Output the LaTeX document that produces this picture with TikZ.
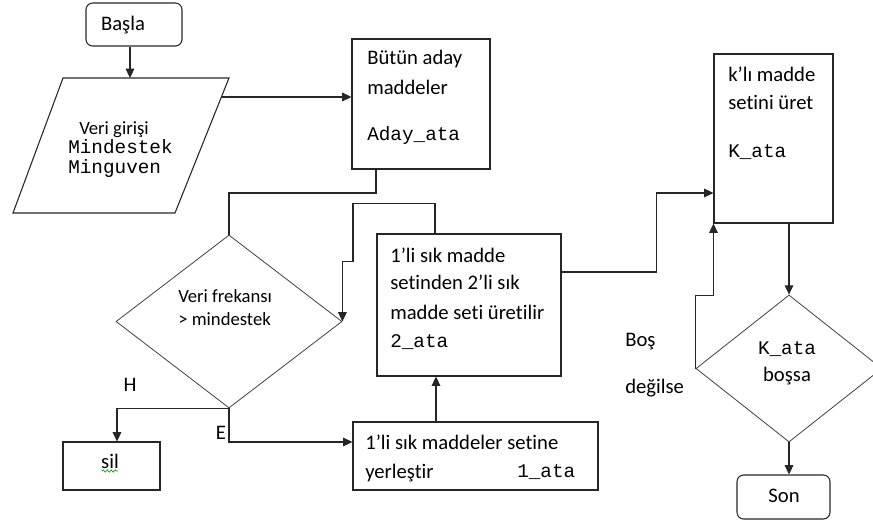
\documentclass[tikz,border=0pt]{standalone}
\usepackage{fontspec}
\setmainfont{Carlito}[Ligatures=NoCommon]
\newfontfamily\monof{Liberation Mono}
\usetikzlibrary{arrows.meta,shapes.geometric,decorations.pathmorphing}
\begin{document}
\begin{tikzpicture}[x=0.75pt,y=-0.75pt,
  line/.style={draw=black!85, line width=0.8pt},
  arr/.style={line, -{Triangle[length=7pt,width=6.5pt]}},
  box/.style={line, rectangle, inner sep=0pt},
  rbox/.style={box, rounded corners=5pt},
  dia/.style={draw=black!75, line width=0.6pt, diamond, inner sep=0pt},
  lbl/.style={font=\fontsize{15.5}{17}\selectfont, inner sep=0pt, anchor=west, text height=1.5ex, text depth=.25ex, yshift=-2pt},
  slbl/.style={lbl, font=\fontsize{14}{16}\selectfont},
  clbl/.style={lbl, anchor=center},
  mono/.style={font=\fontsize{14.5}{16}\selectfont\monof, inner sep=0pt, anchor=west, text height=1.5ex, text depth=.25ex, yshift=-1.2pt},
  cmono/.style={mono, anchor=center},
]
\useasboundingbox (0,0) rectangle (873,520);
% helper coordinates
\coordinate (c130) at (130,0);
\coordinate (c376) at (376,0);
\coordinate (c435) at (435,0);
\coordinate (c436) at (436,0);
\coordinate (c117) at (117,0);
\coordinate (c789) at (789,0);
\coordinate (y442) at (0,442);
\coordinate (y272) at (0,272);
\coordinate (y193) at (0,193);

% input parallelogram corners
\coordinate (vtl) at (63,78);
\coordinate (vtr) at (229,78);
\coordinate (vbr) at (175,213);
\coordinate (vbl) at (13,213);
\coordinate (veritop) at (130,78);
\coordinate (v1) at (222,97);

% shapes
\node[rbox, minimum width={96*0.75pt}, minimum height={43*0.75pt}] (basla) at (134,24.5) {};
\draw[line] (vtl) -- (vtr) -- (vbr) -- (vbl) -- cycle;
\node[box, minimum width={138*0.75pt}, minimum height={130*0.75pt}] (aday) at (421,104) {};
\node[dia, minimum width={226*0.75pt}, minimum height={173*0.75pt}] (d1) at (229,321.5) {};
\node[box, minimum width={184*0.75pt}, minimum height={142*0.75pt}] (ata2) at (469,305) {};
\node[box, minimum width={245*0.75pt}, minimum height={68*0.75pt}] (ata1) at (475.5,456) {};
\node[box, minimum width={97*0.75pt}, minimum height={48*0.75pt}] (sil) at (111.5,466) {};
\node[box, minimum width={119*0.75pt}, minimum height={169*0.75pt}] (K) at (773.5,138.5) {};
\node[dia, minimum width={186*0.75pt}, minimum height={147*0.75pt}] (d2) at (789,368.5) {};
\node[rbox, minimum width={93*0.75pt}, minimum height={44*0.75pt}] (son) at (783.5,497) {};

% texts
\node[clbl] (tbasla) at (123,24) {Başla};
\node[slbl] (tveri1) at (79,128) {Veri girişi};
\node[mono] (tveri2) at (68,148) {Mindestek};
\node[mono] (tveri3) at (68,168) {Minguven};
\node[lbl] (tad1) at (367,58) {Bütün aday};
\node[lbl] (tad2) at (367,88) {maddeler};
\node[mono] (tad3) at (367,135) {Aday\_ata};
\node[slbl] (tdi1) at (178,296) {Veri frekansı};
\node[slbl] (tdi2) at (178,319) {> mindestek};
\node[lbl] (ta21) at (390,256) {1’li sık madde};
\node[lbl] (ta22) at (390,283) {setinden 2’li sık};
\node[lbl] (ta23) at (390,313) {madde seti üretilir};
\node[mono] (ta24) at (390,342) {2\_ata};
\node[lbl] (ta11) at (365,443) {1’li sık maddeler setine};
\node[lbl] (ta12) at (365,472) {yerleştir};
\node[mono] (ta13) at (517,472) {1\_ata};
\node[clbl] (tsil) at (110,462) {sil};
\node[lbl] (tk1) at (728,75) {k’lı madde};
\node[lbl] (tk2) at (728,103) {setini üret};
\node[mono] (tk3) at (728,152) {K\_ata};
\node[cmono] (td21) at (787,349) {K\_ata};
\node[clbl] (td22) at (787,375) {boşsa};
\node[clbl] (tson) at (784,496) {Son};
\node[clbl] (lH) at (130,385) {H};
\node[clbl] (lE) at (221,433) {E};
\node[lbl] (lbos) at (625,340) {Boş};
\node[lbl] (ldeg) at (625,387) {değilse};

\draw[green!60!black, line width=0.5pt, decorate, decoration={snake, amplitude=0.8pt, segment length=3pt}] (102,471) -- (118,471);

% connectors
\draw[arr] (basla.south -| c130) -- (veritop);
\draw[arr] (v1) -- (v1 -| aday.west);
\draw[line] (aday.south -| c376) -- (c376 |- y193) -| (d1.north);
\draw[arr] (ata2.north -| c435) -- ++(0,-30) -- ++(-82,0) -- ++(0,58) -| (d1.east);
\draw[arr] (d1.south) -| (sil.north -| c117);
\draw[arr] (d1.south) |- (ata1.west |- y442);
\draw[arr] (ata1.north -| c436) -- (ata2.south -| c436);
\draw[arr] (ata2.east |- y272) -- ++(95,0) |- (K.west |- y193);
\draw[arr] (K.south -| c789) -- (d2.north);
\draw[arr] (d2.south) -- (son.north -| d2.south);
\draw[arr] (d2.west) -- ++(0,-73) -| (K.south west);
\end{tikzpicture}
\end{document}
